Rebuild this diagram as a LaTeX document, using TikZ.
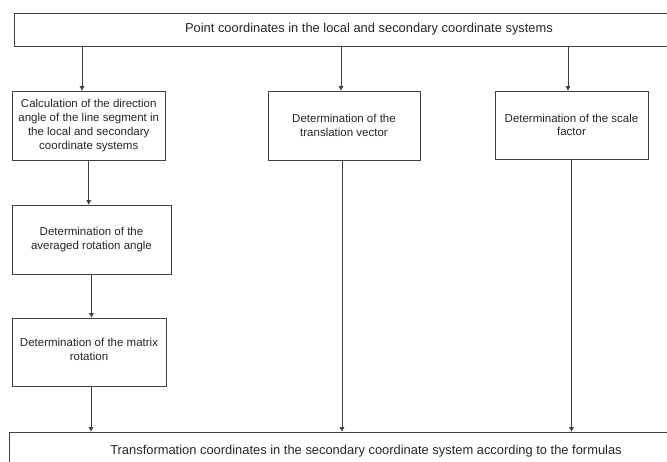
\documentclass[tikz,border=0pt]{standalone}
\usepackage{fontspec}
\setmainfont{Liberation Sans}
\usetikzlibrary{arrows.meta}
\definecolor{linec}{HTML}{404040}
\definecolor{textc}{HTML}{262626}
\tikzset{
  box/.style={draw=linec, line width=0.8pt, align=center, inner sep=0pt,
    font=\fontsize{11.5}{13.7}\selectfont, text=textc},
  wide/.style={box, font=\fontsize{12.9}{15}\selectfont},
  arr/.style={draw=linec, line width=0.8pt, -{Triangle[width=4.5pt,length=4.5pt]}}
}
\begin{document}
\begin{tikzpicture}[x=1pt,y=-1pt]
\useasboundingbox (0,0) rectangle (667,461);
\node[wide, minimum width=710pt, minimum height=33pt] (top) at (369,29.5)
  {Point coordinates in the local and secondary coordinate systems};
\node[box, minimum width=153pt, minimum height=69pt] (c1) at (88.75,125.5)
  {Calculation of the direction\\angle of the line segment in\\the local and secondary\\coordinate systems};
\node[box, minimum width=159pt, minimum height=69pt] (c2) at (91.5,239.5)
  {Determination of the\\averaged rotation angle};
\node[box, minimum width=154pt, minimum height=68pt, text depth=6pt] (c3) at (89,352)
  {Determination of the matrix\\rotation};
\node[box, minimum width=152pt, minimum height=69pt] (m) at (344,125.5)
  {Determination of the\\translation vector};
\node[box, minimum width=153pt, minimum height=68pt] (r) at (571.5,125)
  {Determination of the scale\\factor};
\node[wide, minimum width=714pt, minimum height=38pt] (bot) at (366,451)
  {Transformation coordinates in the secondary coordinate system according to the formulas};
\draw[arr] ([xshift=-6.75pt]c1.north |- top.south) -- ([xshift=-6.75pt]c1.north);
\draw[arr] ([xshift=-3pt]m.north |- top.south) -- ([xshift=-3pt]m.north);
\draw[arr] ([xshift=-3.5pt]r.north |- top.south) -- ([xshift=-3.5pt]r.north);
\draw[arr] (c1.south) -- (c1.south |- c2.north);
\draw[arr] (c2.south) -- (c2.south |- c3.north);
\draw[arr] ([xshift=2pt]c3.south) -- ([xshift=2pt]c3.south |- bot.north);
\draw[arr] ([xshift=-2pt]m.south) -- ([xshift=-2pt]m.south |- bot.north);
\draw[arr] (r.south) -- (r.south |- bot.north);
\end{tikzpicture}
\end{document}
